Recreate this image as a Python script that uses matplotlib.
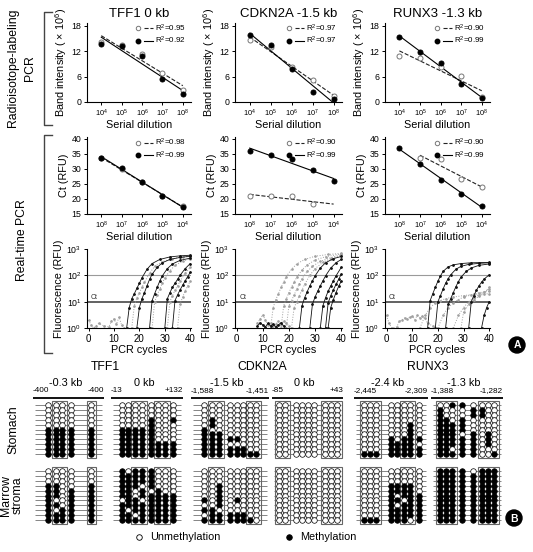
import numpy as np
import matplotlib
matplotlib.use("Agg")
import matplotlib.pyplot as plt
from matplotlib.lines import Line2D
from matplotlib.legend_handler import HandlerTuple
from matplotlib.patches import Rectangle, Circle

plt.rcParams['font.family'] = ['Liberation Sans', 'DejaVu Sans']
plt.rcParams['mathtext.fontset'] = 'custom'
plt.rcParams['mathtext.rm'] = 'Liberation Sans'
plt.rcParams['mathtext.it'] = 'Liberation Sans:italic'

# ---------------- data ----------------
genes = ['TFF1 0 kb', 'CDKN2A -1.5 kb', 'RUNX3 -1.3 kb']
dil_pos = [1, 2, 3, 4, 5]

radio_ticks = ['10$^4$', '10$^5$', '10$^6$', '10$^7$', '10$^8$']
radio_open = [[14.3, 13.6, 11.3, 6.8, 2.9],
              [14.7, 13.0, 8.2, 5.1, 1.4],
              [11.0, 10.3, 8.2, 6.1, 1.3]]
radio_filled = [[13.7, 13.3, 10.8, 5.5, 1.8],
                [15.8, 13.4, 7.8, 2.4, 0.7],
                [15.4, 11.9, 9.2, 4.3, 1.0]]
radio_r2_open = ['0.95', '0.97', '0.90']
radio_r2_filled = ['0.92', '0.97', '0.99']

ct_ticks = ['10$^8$', '10$^7$', '10$^6$', '10$^5$', '10$^4$']
ct_open = [[33.6, 30.1, 25.6, 21.1, 17.5],
           [21.0, 21.0, 21.0, 18.3, np.nan],
           [np.nan, 33.5, 33.2, 26.5, 24.0]]
ct_filled = [[33.8, 30.4, 25.8, 21.0, 17.4],
             [36.0, 34.8, 33.2, 29.5, 26.0],
             [37.0, 31.8, 26.2, 21.8, 17.8]]
ct_r2_open = ['0.98', '0.90', '0.90']
ct_r2_filled = ['0.99', '0.99', '0.99']

# amplification curves: (cycles, RFU)
tff1_black = [
    ([15, 16, 17, 18, 19, 20, 21, 23, 25, 28, 32, 36, 40], [1.0, 6, 13, 20, 32, 50, 80, 170, 280, 400, 500, 550, 580]),
    ([19, 20, 21, 22, 23, 24, 25, 27, 29, 32, 36, 40], [1.0, 6, 13, 22, 40, 70, 110, 200, 300, 400, 480, 530]),
    ([24, 25, 26, 27, 28, 29, 31, 33, 36, 40], [1.0, 11, 20, 35, 60, 95, 180, 270, 370, 450]),
    ([30, 31, 32, 33, 34, 35, 36, 38, 40], [1.0, 13, 22, 35, 50, 70, 100, 180, 280]),
    ([33, 34, 35, 36, 37, 38, 39, 40], [1.0, 11, 18, 28, 42, 62, 90, 130]),
]
tff1_gray = [
    ([17, 18, 19, 20, 21, 22, 24, 26, 29, 33, 37, 40], [1.0, 7, 14, 22, 35, 55, 120, 220, 330, 430, 500, 520]),
    ([25, 26, 27, 28, 29, 30, 32, 34, 37, 40], [1.0, 10, 18, 30, 50, 80, 150, 240, 340, 420]),
    ([31, 32, 33, 34, 35, 36, 38, 40], [1.0, 10, 17, 27, 40, 60, 120, 200]),
    ([35, 36, 37, 38, 39, 40], [1.0, 8, 15, 25, 40, 60]),
    ([0, 1, 2, 3, 4, 6, 8, 9, 10, 11, 12, 13, 14], [2.0, 1.3, 1.0, 1.2, 1.5, 1.2, 1.1, 1.8, 2.2, 1.4, 2.6, 1.3, 1.0]),
]
cdkn_black = [
    ([24, 25, 26, 27, 28, 29, 30, 32, 34, 37, 40], [1.0, 7, 14, 24, 40, 62, 95, 190, 300, 430, 520]),
    ([28, 29, 30, 31, 32, 33, 34, 36, 38, 40], [1.0, 8, 15, 25, 40, 62, 95, 190, 300, 400]),
    ([32, 33, 34, 35, 36, 37, 38, 40], [1.0, 7, 14, 25, 40, 62, 95, 200]),
    ([34, 35, 36, 37, 38, 39, 40], [1.0, 9, 17, 28, 45, 70, 110]),
    ([35, 36, 37, 38, 39, 40], [1.0, 6, 12, 22, 38, 60]),
    ([8, 9, 10, 11, 12, 13, 14, 15, 16, 17, 18], [1.2, 1.6, 1.3, 1.1, 1.5, 1.2, 1.4, 1.1, 1.3, 1.6, 1.2]),
]
cdkn_gray = [
    ([13, 14, 15, 16, 17, 18, 19, 21, 23, 26, 30, 35, 40], [1.0, 6, 12, 20, 35, 55, 90, 170, 270, 400, 530, 620, 680]),
    ([17, 18, 19, 20, 21, 22, 23, 25, 27, 30, 34, 40], [1.0, 7, 13, 22, 36, 55, 85, 160, 250, 380, 510, 650]),
    ([19, 20, 21, 22, 23, 24, 25, 27, 29, 32, 36, 40], [1.0, 7, 11, 18, 30, 48, 75, 140, 220, 340, 470, 600]),
    ([21, 22, 23, 24, 25, 26, 28, 30, 33, 36, 40], [1.0, 6, 10, 17, 28, 45, 100, 180, 310, 430, 560]),
    ([8, 9, 10, 11, 12, 13, 14, 15, 16, 17, 18, 19, 20], [1.5, 2.2, 3.2, 2.0, 1.3, 1.6, 1.2, 1.4, 1.8, 1.3, 1.9, 1.5, 1.2]),
]
runx_black = [
    ([16, 17, 18, 19, 20, 21, 22, 24, 26, 29, 33, 40], [1.0, 11, 20, 35, 60, 95, 140, 210, 250, 280, 300, 310]),
    ([19, 20, 21, 22, 23, 24, 25, 27, 29, 32, 36, 40], [1.0, 10, 17, 30, 50, 75, 105, 170, 220, 260, 285, 300]),
    ([23, 24, 25, 26, 27, 28, 29, 31, 33, 36, 40], [1.0, 8, 13, 22, 37, 58, 85, 140, 190, 240, 270]),
    ([32, 33, 34, 35, 36, 37, 38, 40], [1.0, 10, 17, 27, 40, 55, 72, 105]),
    ([37, 38, 39, 40], [1.0, 3, 6, 10]),
]
runx_gray = [
    ([13, 15, 17, 19, 21, 23, 26, 30, 34, 40], [1.0, 3, 6, 9, 11, 13, 15, 17, 19, 20]),
    ([20, 22, 24, 26, 28, 30, 33, 36, 40], [1.0, 3, 6, 9, 12, 15, 18, 22, 25]),
    ([26, 28, 30, 32, 34, 36, 38, 40], [1.0, 3, 6, 10, 14, 18, 24, 30]),
    ([29, 30, 32, 34, 36, 38, 40], [1.0, 4, 8, 12, 16, 20, 35]),
    ([0, 1, 2, 4, 5, 6, 7, 8, 9, 10, 11, 12, 13, 14, 15, 16, 18, 20],
     [3, 1.5, 1.0, 1.1, 1.8, 2.0, 2.4, 2.2, 2.6, 2.8, 2.1, 3.0, 2.5, 2.8, 2.3, 1.5, 1.2, 1.0]),
]
amp_black = [tff1_black, cdkn_black, runx_black]
amp_gray = [tff1_gray, cdkn_gray, runx_gray]

# bisulfite sequencing: 'x' = methylated, 'o' = unmethylated
meth_genes = ['TFF1', 'CDKN2A', 'RUNX3']
meth_regions = ['-0.3 kb', '0 kb', '-1.5 kb', '0 kb', '-2.4 kb', '-1.3 kb']
meth_ends = [('-400', '-400'), ('-13', '+132'), ('-1,588', '-1,451'),
             ('-85', '+43'), ('-2,445', '-2,309'), ('-1,388', '-1,282')]
tissues = ['Stomach', 'Marrow\nstroma']

stomach = [
    ["ooooo"] * 5 + ["xxxxx"] * 6,
    ["oooooooo"] * 3 + ["ooooxoox", "ooooxooo", "xxxxxooo", "xxxxxooo", "xxxxxooo",
                        "xxxxxxxx", "xxxxxxxx", "xxxxxxxx"],
    ["oooooooo"] * 3 + ["oxoooooo", "oxoooooo", "xooooooo", "xxxooooo", "xxxxxooo",
                        "xxxooooo", "xxxxxxoo", "xxxxxxxx"],
    ["ooooooooo"] * 11,
    ["oooooooo"] * 4 + ["ooooooxo", "ooooooxo", "ooooooxo", "oooxoxxx",
                        "oooxxxxo", "oooxxxxx", "xxxxxxxx"],
    ["ooxxoooo", "xoooxxoo", "xoooxxoo", "xxoxoooo", "xxxxoooo", "xxxxoooo",
     "xxxoxoxo", "xxxxxoxo", "xxxxxoxo", "xxoxxooo", "xxxxxoox"],
]
marrow = [
    ["ooooo"] * 3 + ["xxoox", "xxoxx", "xxoxx", "xooxx", "xxoxx", "xoxxx", "xxxxx", "xxxxx"],
    ["xoxxxooo", "xxxxxooo", "xxxxxooo", "xxxoxooo", "xxoxoxoo", "xxoxxxxx",
     "oxxoxxxx", "xxxxxxxx", "xoxxxxxx", "xxoxxxxx", "xxxxxxxx"],
    ["oooooooo"] * 3 + ["ooxooooo", "ooxooooo", "ooxooooo", "xoxoxooo", "ooxooooo",
                        "xxoooooo", "oxxxxxoo", "xxxxxxxo"],
    ["ooooooooo"] * 11,
    ["oooooooo"] * 3 + ["oooxxxxo", "oooxxxxo", "oooxoxxx", "oooxxoxx", "oooxoxxx",
                        "oooxxxxx", "oooxxxxx", "xxxxxxox"],
    ["xxxxoxxx"] + ["xxxxxxxx"] * 10,
]

# ---------------- layout ----------------
W, H = 533, 552
fig = plt.figure(figsize=(W / 100, H / 100), dpi=100)


def px_axes(x0, y0, x1, y1):
    return fig.add_axes([x0 / W, 1 - y1 / H, (x1 - x0) / W, (y1 - y0) / H])


col_x = [(87, 191), (235, 342), (385, 490)]
TICK = 6.3
LAB = 7.8


def style(ax):
    for s in ['top', 'right']:
        ax.spines[s].set_visible(False)
    for s in ['left', 'bottom']:
        ax.spines[s].set_linewidth(0.8)
    ax.tick_params(length=2, width=0.7, labelsize=TICK, pad=2)


def r2_legend(ax, r_open, r_filled):
    h_open = (Line2D([], [], marker='o', ls='none', mfc='white', mec='#777', mew=0.7, ms=3.2),
              Line2D([], [], ls='--', color='#222', lw=0.8))
    h_fill = (Line2D([], [], marker='o', ls='none', color='k', ms=3.2),
              Line2D([], [], ls='-', color='k', lw=0.8))
    ax.legend([h_open, h_fill], ['R$^2$=' + r_open, 'R$^2$=' + r_filled],
              handler_map={tuple: HandlerTuple(ndivide=None, pad=0.2)},
              loc='upper right', bbox_to_anchor=(1.0, 1.07), frameon=False,
              fontsize=5.8, handlelength=2.4, handletextpad=0.3,
              labelspacing=0.15, borderpad=0.1)


def scatter_fit(ax, xs, op, fi):
    op = np.array(op, dtype=float)
    fi = np.array(fi, dtype=float)
    xs = np.array(xs, dtype=float)
    for ys, ls, mfc, mec, c in [(op, '--', 'white', '#777', '#222'), (fi, '-', 'k', 'k', 'k')]:
        ok = ~np.isnan(ys)
        p = np.poly1d(np.polyfit(xs[ok], ys[ok], 1))
        xl = np.array([xs[ok][0], xs[-1]])
        ax.plot(xl, p(xl), ls=ls, color=c, lw=0.8, zorder=2)
        ax.plot(xs[ok], ys[ok], 'o', mfc=mfc, mec=mec, mew=0.7, ms=3.6, zorder=3)


for i in range(3):
    x0, x1 = col_x[i]
    # radioisotope row
    ax = px_axes(x0, 23, x1, 102)
    scatter_fit(ax, dil_pos, radio_open[i], radio_filled[i])
    ax.set_xlim(0.3, 5.4)
    ax.set_ylim(0, 18.7)
    ax.set_yticks([0, 6, 12, 18])
    ax.set_xticks(dil_pos)
    ax.set_xticklabels(radio_ticks, fontsize=5.3)
    ax.set_xlabel('Serial dilution', fontsize=LAB, labelpad=1)
    ax.set_ylabel('Band intensity ( × 10$^6$)', fontsize=LAB, labelpad=2)
    ax.set_title(genes[i], fontsize=9.5, pad=4)
    style(ax)
    ax.tick_params(axis='x', labelsize=5.3)
    r2_legend(ax, radio_r2_open[i], radio_r2_filled[i])

    # Ct row
    ax = px_axes(x0, 137.5, x1, 214)
    scatter_fit(ax, dil_pos, ct_open[i], ct_filled[i])
    ax.set_xlim(0.3, 5.4)
    ax.set_ylim(15, 40.5)
    ax.set_yticks([15, 20, 25, 30, 35, 40])
    ax.set_xticks(dil_pos)
    ax.set_xticklabels(ct_ticks, fontsize=5.3)
    ax.set_xlabel('Serial dilution', fontsize=LAB, labelpad=1)
    ax.set_ylabel('Ct (RFU)', fontsize=LAB, labelpad=2)
    style(ax)
    ax.tick_params(axis='x', labelsize=5.3)
    r2_legend(ax, ct_r2_open[i], ct_r2_filled[i])

    # amplification row
    ax = px_axes(x0, 249, x1, 328)
    ax.set_yscale('log')
    ax.axhline(100, color='#9a9a9a', lw=0.8, zorder=1)
    ax.axhline(10, color='#555555', lw=1.3, zorder=1)
    for xs, ys in amp_gray[i]:
        ax.plot(xs, ys, ls=':', color='#a0a0a0', lw=0.7, marker='.', ms=1.8, zorder=2)
    for xs, ys in amp_black[i]:
        ax.plot(xs, ys, ls='-', color='#111111', lw=0.6, marker='.', ms=2.0, zorder=3)
    ax.text(1, 12.5, 'Ct', fontsize=5, color='#333')
    ax.set_xlim(-0.6, 40.3)
    ax.set_ylim(1, 1000)
    ax.set_yticks([1, 10, 100, 1000])
    ax.set_yticklabels(['10$^0$', '10$^1$', '10$^2$', '10$^3$'])
    ax.yaxis.set_minor_locator(matplotlib.ticker.NullLocator())
    ax.set_xticks([0, 10, 20, 30, 40])
    ax.set_xlabel('PCR cycles', fontsize=LAB, labelpad=1)
    ax.set_ylabel('Fluorescence (RFU)', fontsize=LAB, labelpad=2)
    style(ax)
    ax.tick_params(axis='x', labelsize=7)

# ---------------- overlay (labels, brackets, methylation) ----------------
ov = fig.add_axes([0, 0, 1, 1])
ov.set_xlim(0, W)
ov.set_ylim(H, 0)
ov.axis('off')
ov.patch.set_alpha(0)

ov.text(13, 68, 'Radioisotope-labeling', rotation=90, ha='center', va='center', fontsize=8.8)
ov.text(30, 68, 'PCR', rotation=90, ha='center', va='center', fontsize=8.8)
ov.text(22, 240, 'Real-time PCR', rotation=90, ha='center', va='center', fontsize=8.8)
for ya, yb in [(12, 125), (135, 353)]:
    ov.plot([52, 44, 44, 52], [ya, ya, yb, yb], color='#444', lw=1.0)

for lab, xy in [('A', (517, 345)), ('B', (514, 518))]:
    ov.add_patch(Circle(xy, 8, color='black'))
    ov.text(xy[0], xy[1] + 0.5, lab, color='white', ha='center', va='center',
            fontsize=7.5, fontweight='bold')

# methylation panel layout (column centres in pixels, boxed column ranges)
panel_cols = [[48, 56, 62, 71, 91],
              [122, 128, 135, 142, 151, 158, 165, 173],
              [204, 212, 219, 230, 237, 243, 250, 256],
              [279, 285, 296, 302, 308, 314, 325, 331, 337],
              [364, 370, 376, 391, 397, 404, 410, 419],
              [440, 446, 452, 462, 473, 482, 488, 494]]
panel_span = [(33, 104), (111, 183), (191, 269), (272, 343), (354, 428), (431, 503)]
panel_boxes = [[(1, 2), (4, 4)], [(2, 3), (5, 6)], [(1, 2), (6, 7)],
               [(0, 1), (6, 8)], [(0, 2), (5, 6)], [(0, 2), (5, 7)]]
gene_x = [105, 262, 428]
tissue_top = [405, 471]
row_step = 4.9

for g, gx in zip(meth_genes, gene_x):
    ov.text(gx, 367, g, ha='center', va='center', fontsize=8.8)

for p in range(6):
    xa, xb = panel_span[p]
    cols = panel_cols[p]
    ov.text((xa + xb) / 2 - 3, 383, meth_regions[p], ha='center', va='center', fontsize=7.8)
    ov.text(xa, 391, meth_ends[p][0], ha='left', va='center', fontsize=5.9)
    ov.text(xb, 391, meth_ends[p][1], ha='right', va='center', fontsize=5.9)
    ov.plot([xa, xb], [398, 398], color='k', lw=1.3, solid_capstyle='butt')
    for t, pattern in enumerate([stomach[p], marrow[p]]):
        top = tissue_top[t]
        ys = [top + r * row_step for r in range(len(pattern))]
        ov.hlines(ys, xa + 2, xb - 2, color='#555', lw=0.5, zorder=1)
        for a, b in panel_boxes[p]:
            ov.add_patch(Rectangle((cols[a] - 4.5, top - 4), cols[b] - cols[a] + 9,
                                   ys[-1] - top + 8, fill=False, ec='#666', lw=0.8, zorder=2))
        for r, row in enumerate(pattern):
            for c, ch in enumerate(row):
                ov.scatter(cols[c], ys[r], s=16, marker='o',
                           facecolor='k' if ch == 'x' else 'white',
                           edgecolor='k', linewidth=0.5, zorder=3)

ov.text(13, 430, tissues[0], rotation=90, ha='center', va='center', fontsize=8.8)
ov.text(12, 495, tissues[1], rotation=90, ha='center', va='center', fontsize=8.8,
        linespacing=0.95)

ov.scatter([139], [537], s=16, facecolor='white', edgecolor='k', linewidth=0.6)
ov.text(150, 537, 'Unmethylation', ha='left', va='center', fontsize=7.8)
ov.scatter([289], [537], s=16, facecolor='k', edgecolor='k', linewidth=0.6)
ov.text(300, 537, 'Methylation', ha='left', va='center', fontsize=7.8)

fig.savefig('out.png', dpi=100)
